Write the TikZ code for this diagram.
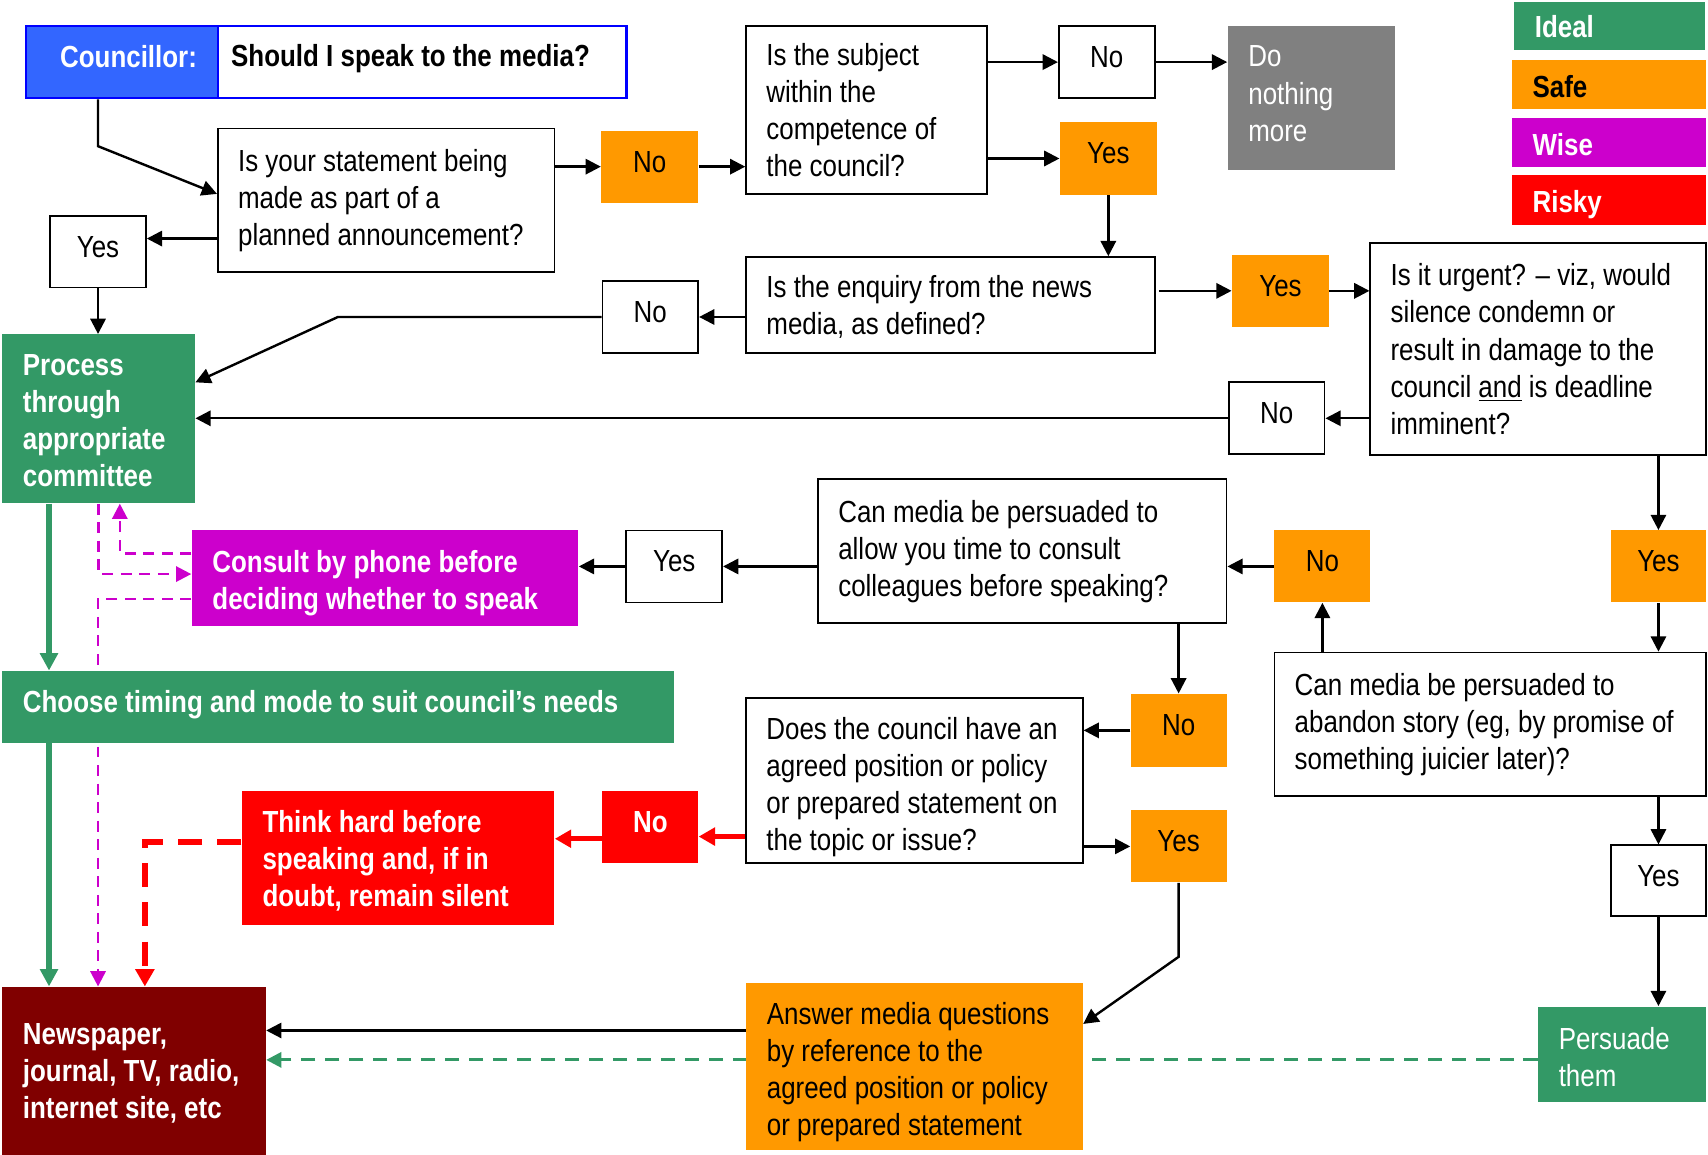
\documentclass[tikz,border=0pt]{standalone}
\usepackage{fontspec}
\setmainfont{Liberation Sans}[FakeStretch=0.85]
\usetikzlibrary{arrows.meta,backgrounds}
\definecolor{cblue}{HTML}{3366FF}
\definecolor{cbord}{HTML}{0000FF}
\definecolor{cgreen}{HTML}{339966}
\definecolor{corange}{HTML}{FF9900}
\definecolor{cmag}{HTML}{CC00CC}
\definecolor{cred}{HTML}{FF0000}
\definecolor{cdred}{HTML}{800000}
\definecolor{cgray}{HTML}{808080}
% box with left-aligned text: box style, text style, name, x1, y1, x2, y2, text
\newcommand\lbox[8]{%
  \pgfmathsetmacro\mbw{(#6-#4)*0.5}%
  \pgfmathsetmacro\mbh{(#7-#5)*0.5}%
  \pgfmathsetmacro\mbcx{(#4+#6)/2}%
  \pgfmathsetmacro\mbcy{(#5+#7)/2}%
  \node[#1, minimum width=\mbw pt, minimum height=\mbh pt] (#3) at (\mbcx,\mbcy) {};%
  \node[anchor=west, align=left, inner sep=0pt, #2] at ([xshift=9.5pt]#3.west) {#8};%
}
% box with centred text
\newcommand\cbox[8]{%
  \pgfmathsetmacro\mbw{(#6-#4)*0.5}%
  \pgfmathsetmacro\mbh{(#7-#5)*0.5}%
  \pgfmathsetmacro\mbcx{(#4+#6)/2}%
  \pgfmathsetmacro\mbcy{(#5+#7)/2}%
  \node[#1, minimum width=\mbw pt, minimum height=\mbh pt] (#3) at (\mbcx,\mbcy) {};%
  \node[inner sep=0pt, yshift=2.25pt, #2] at (#3.center) {#8};%
}
\begin{document}
\begin{tikzpicture}[x=0.5pt,y=-0.5pt,
  wb/.style={draw=black, line width=0.8pt, fill=white},
  ob/.style={fill=corange},
  gb/.style={fill=cgreen},
  mb/.style={fill=cmag},
  rb/.style={fill=cred},
  drb/.style={fill=cdred},
  grb/.style={fill=cgray},
  tr/.style={font=\fontsize{14}{17}\selectfont, text=black},
  trw/.style={font=\fontsize{14}{17}\selectfont, text=white},
  tbw/.style={font=\fontsize{14}{17}\selectfont\bfseries, text=white},
  tbk/.style={font=\fontsize{14}{17}\selectfont\bfseries, text=black},
  arr/.style={draw=black, line width=1.1pt, -{Triangle[length=7pt,width=7pt]}},
  rarr/.style={draw=cred, line width=2.2pt, -{Triangle[length=7.5pt,width=8pt]}},
  rdash/.style={draw=cred, line width=2.5pt, dash pattern=on 11pt off 7pt, -{Triangle[length=8pt,width=8.5pt]}},
  garr/.style={draw=cgreen, line width=2.6pt, -{Triangle[length=8pt,width=8pt]}},
  gdash/.style={draw=cgreen, line width=1.3pt, dash pattern=on 6.5pt off 4.5pt, -{Triangle[length=7pt,width=7pt]}},
  marr/.style={draw=cmag, line width=1.1pt, dash pattern=on 5pt off 3.5pt, -{Triangle[length=7pt,width=7pt]}}
]
\useasboundingbox (0,0) rectangle (1568,1060);

% title
\node[draw=cbord, line width=1.2pt, fill=white, minimum width=187.5pt, minimum height=33pt] (q) at (387.5,57) {};
\node[tbk, anchor=west, inner sep=0pt] at ([xshift=6.5pt,yshift=1.5pt]q.west) {Should I speak to the media?};
\node[draw=cbord, line width=1.2pt, fill=cblue, minimum width=88pt, minimum height=33pt] (cl) at (112,57) {};
\node[tbw, inner sep=0pt] at ([xshift=3pt,yshift=2.5pt]cl.center) {Councillor:};

\lbox{wb}{tr}{stmt}{200}{118}{509}{250}{Is your statement being\\made as part of a\\planned announcement?}
\cbox{ob}{tr}{no1}{552}{120}{641}{186}{No}
\lbox{wb}{tr}{subj}{685}{24}{906}{178}{Is the subject\\within the\\competence of\\the council?}
\cbox{wb}{tr}{no2}{972}{24}{1060}{90}{No}
\lbox{grb}{trw,yshift=2pt}{gray}{1127}{24}{1281}{156}{Do\\nothing\\more}
\cbox{ob}{tr}{yes2}{973}{112}{1062}{179}{Yes}

% legend
\lbox{gb}{tbw}{lg1}{1390}{2}{1565}{46}{Ideal}
\lbox{ob}{tbk,yshift=-1pt}{lg2}{1388}{55}{1566}{100}{Safe}
\lbox{mb}{tbw,yshift=-1pt}{lg3}{1388}{108}{1566}{153}{Wise}
\lbox{rb}{tbw,yshift=-2pt}{lg4}{1388}{161}{1566}{207}{Risky}

\lbox{wb}{tr,yshift=-1pt}{enq}{685}{236}{1060}{324}{Is the enquiry from the news\\media, as defined?}
\cbox{wb}{tr}{no3}{553}{258}{641}{324}{No}
\cbox{ob}{tr}{yes3}{1131}{234}{1220}{300}{Yes}
\lbox{wb}{tr}{urg}{1258}{223}{1566}{418}{Is it urgent? – viz, would\\silence condemn or\\result in damage to the\\council \underline{and} is deadline\\imminent?}
\cbox{wb}{tr}{no4}{1128}{351}{1216}{417}{No}
\lbox{gb}{tbw,yshift=-1pt}{proc}{2}{307}{179}{462}{Process\\through\\appropriate\\committee}
\cbox{wb}{tr}{yes1}{46}{198}{134}{264}{Yes}
\lbox{mb}{tbw,yshift=-2pt}{cons}{176}{487}{531}{575}{Consult by phone before\\deciding whether to speak}
\cbox{wb}{tr}{yes5}{575}{487}{663}{553}{Yes}
\lbox{wb}{tr}{allow}{751}{440}{1126}{572}{Can media be persuaded to\\allow you time to consult\\colleagues before speaking?}
\cbox{ob}{tr}{no5}{1170}{487}{1258}{553}{No}
\cbox{ob}{tr}{yes4}{1479}{487}{1566}{553}{Yes}
\lbox{gb}{tbw,yshift=1pt}{choose}{2}{616}{619}{682}{Choose timing and mode to suit council’s needs}
\lbox{wb}{tr,yshift=-3pt}{does}{685}{641}{994}{792}{Does the council have an\\agreed position or policy\\or prepared statement on\\the topic or issue?}
\cbox{ob}{tr}{no6}{1038}{637}{1126}{704}{No}
\cbox{ob}{tr}{yes6}{1038}{744}{1126}{810}{Yes}
\lbox{wb}{tr}{aban}{1170}{599}{1566}{731}{Can media be persuaded to\\abandon story (eg, by promise of\\something juicier later)?}
\cbox{wb}{tr}{yes7}{1479}{776}{1566}{841}{Yes}
\lbox{rb}{tbw,yshift=-1.5pt}{think}{222}{726}{509}{849}{Think hard before\\speaking and, if in\\doubt, remain silent}
\cbox{rb}{tbw}{rno}{553}{726}{641}{792}{No}
\lbox{drb}{tbw,yshift=-1pt}{news}{2}{906}{244}{1060}{Newspaper,\\journal, TV, radio,\\internet site, etc}
\lbox{ob}{tr,yshift=-2.5pt}{ans}{685}{902}{994}{1056}{Answer media questions\\by reference to the\\agreed position or policy\\or prepared statement}
\lbox{gb}{trw,yshift=-1pt}{pers}{1412}{924}{1566}{1012}{Persuade\\them}

% black connectors
\draw[arr] ([xshift=-11pt]cl.south) -- ++(0,43) -- ([yshift=3pt]stmt.west);
\draw[arr] ([yshift=-17.5pt]stmt.west) coordinate (s1) -- (s1 -| yes1.east);
\draw[arr] (yes1.south) -- (yes1.south |- proc.north);
\draw[arr] (stmt.east |- no1.west) -- (no1.west);
\draw[arr] (no1.east) -- (no1.east -| subj.west);
\draw[arr] (subj.east |- no2.west) -- (no2.west);
\draw[arr] (no2.east) -- (no2.east -| gray.west);
\draw[arr] (subj.east |- yes2.west) -- (yes2.west);
\draw[arr] (yes2.south) -- (yes2.south |- enq.north);
\draw[arr] (enq.west |- no3.east) -- (no3.east);
\draw[arr] (no3.west) -- ++(-242,0) -- ([yshift=16.75pt]proc.east);
\draw[arr] ([xshift=1.5pt]enq.east |- yes3.west) -- (yes3.west);
\draw[arr] (yes3.east) -- (yes3.east -| urg.west);
\draw[arr] (urg.west |- no4.east) -- (no4.east);
\draw[arr] (no4.west) -- (no4.west -| proc.east);
\draw[arr] (yes4.north |- urg.south) -- (yes4.north);
\draw[arr] (yes4.south) -- (yes4.south |- aban.north);
\draw[arr] (no5.south |- aban.north) -- (no5.south);
\draw[arr] (no5.west) -- (no5.west -| allow.east);
\draw[arr] (allow.west |- yes5.east) -- (yes5.east);
\draw[arr] (yes5.west) -- (yes5.west -| cons.east);
\draw[arr] (no6.north |- allow.south) -- (no6.north);
\draw[arr] (no6.west) -- (no6.west -| does.east);
\draw[arr] (does.east |- yes6.west) -- (yes6.west);
\draw[arr] (yes6.south) -- ++(0,68) -- ([yshift=19.5pt]ans.east);
\draw[arr] ([yshift=16.5pt]ans.west) coordinate (a1) -- (a1 -| news.east);
\draw[arr] (yes7.north |- aban.south) -- (yes7.north);
\draw[arr] (yes7.south) -- (yes7.south |- pers.north);

% red connectors
\path ([yshift=-4.5pt]rno.east) coordinate (r1);
\draw[rarr] (r1 -| does.west) -- (r1);
\draw[rarr] ([yshift=-5.5pt]rno.west) coordinate (r2) -- (r2 -| think.east);
\draw[rdash] ([yshift=7.25pt]think.west) -| ([xshift=5pt]news.north);

% green connectors
\draw[garr] ([xshift=-22.75pt]proc.south) coordinate (g1) -- (g1 |- choose.north);
\draw[garr] (g1 |- choose.south) -- (g1 |- news.north);

% magenta connectors
\draw[marr] (proc.south) |- ([yshift=2pt]cons.west);
\draw[marr] ([yshift=11.5pt]cons.west) -| ([xshift=9.75pt]proc.south);

\begin{scope}[on background layer]
\draw[marr] ([yshift=-9.5pt]cons.west) -| ([xshift=-16.5pt]news.north);
\draw[gdash] ([yshift=-2.5pt]pers.west) coordinate (p1) -- (p1 -| news.east);
\end{scope}
\end{tikzpicture}
\end{document}
